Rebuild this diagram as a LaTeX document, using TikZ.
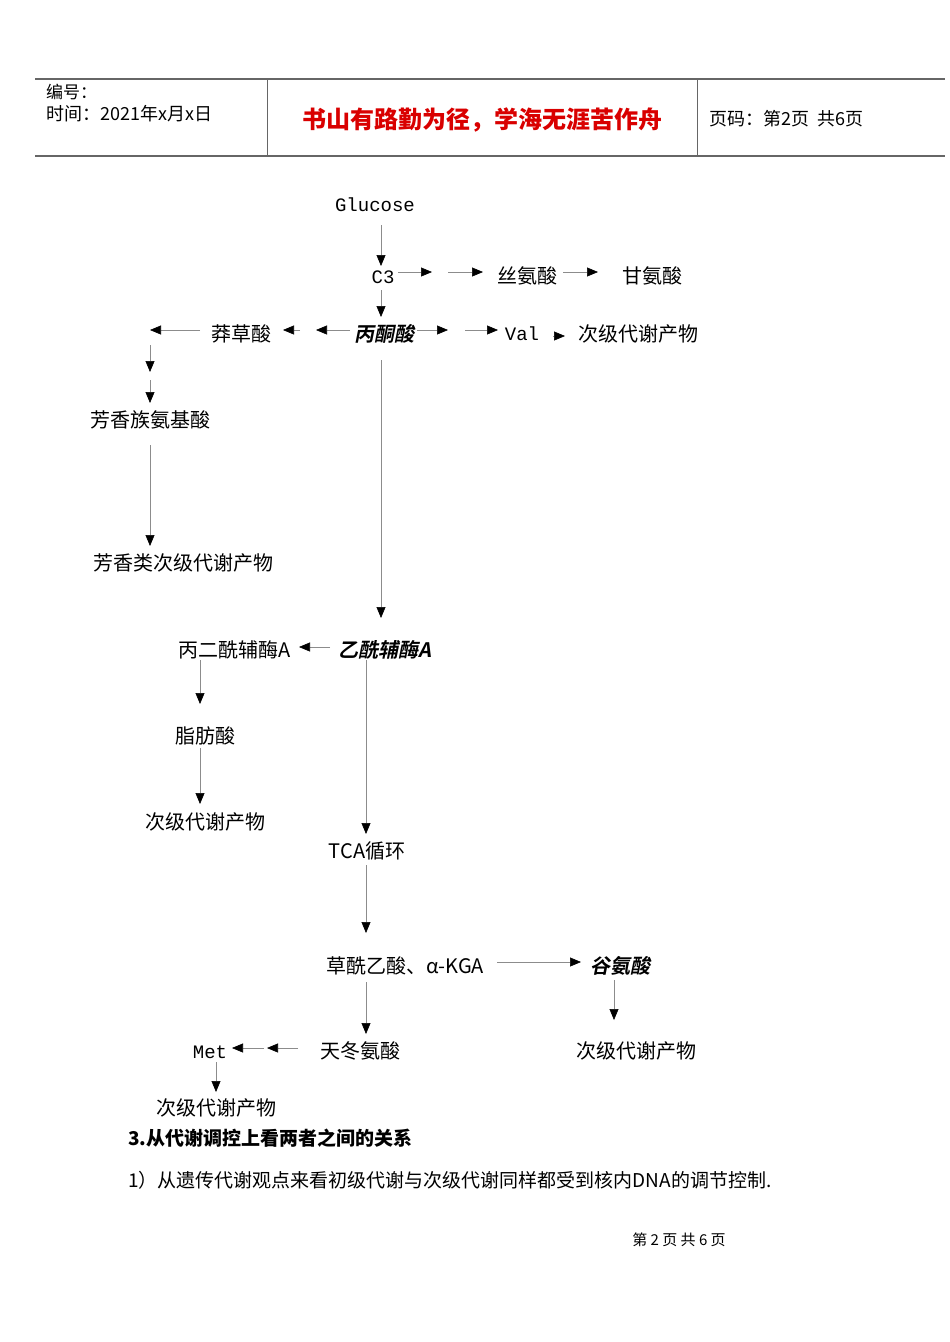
\documentclass[tikz,border=0pt]{standalone}
\usepackage{fontspec}
\setmainfont{Noto Sans CJK SC}
\newfontfamily\mono{Liberation Mono}
\newfontfamily\slb[FakeSlant=0.2]{Noto Sans CJK SC Bold}
\usetikzlibrary{arrows.meta}
\begin{document}
\begin{tikzpicture}[x=1pt,y=-1pt,
  t/.style={inner sep=0pt,font=\fontsize{20}{20}\selectfont},
  tb/.style={t,font=\fontsize{20}{20}\selectfont\slb},
  lt/.style={t,anchor=west},
  ar/.style={draw=black!45,line width=0.6pt,-{Triangle[length=11pt,width=9pt,fill=black,color=black]}},
  ln/.style={draw=black!45,line width=0.6pt}]
\useasboundingbox[fill=white] (0,0) rectangle (950,1342);
% header
\draw[black!60,line width=1.2pt] (35,79) -- (945,79) (35,156) -- (945,156);
\draw[black!60,line width=0.8pt] (267,79) -- (267,156) (697,79) -- (697,156);
\node[lt,font=\fontsize{17}{17}\selectfont] (h1) at (46,92) {编号：};
\node[lt,font=\fontsize{18}{18}\selectfont] (h2) at (46,114) {时间：2021年x月x日};
\node[t,font=\fontsize{24}{24}\selectfont\bfseries,text=red!85!black] (title) at (482,120) {书山有路勤为径，学海无涯苦作舟};
\node[lt,font=\fontsize{18}{18}\selectfont] (h3) at (709,119) {页码：第2页\ \ 共6页};
% nodes
\node[t,font=\fontsize{19}{19}\selectfont\mono] (glu) at (375,205) {Glucose};
\node[t,font=\fontsize{19}{19}\selectfont\mono] (c3) at (383,277) {C3};
\node[t] (ser) at (527,276) {丝氨酸};
\node[t] (gly) at (652,276) {甘氨酸};
\node[tb] (pyr) at (384,334) {丙酮酸};
\node[t] (shk) at (241,334) {莽草酸};
\node[t,font=\fontsize{19}{19}\selectfont\mono] (val) at (522,334) {Val};
\node[t] (sec1) at (638,334) {次级代谢产物};
\node[t] (aro) at (150,420) {芳香族氨基酸};
\node[t] (arosec) at (183,563) {芳香类次级代谢产物};
\node[tb] (aco) at (385,650) {乙酰辅酶A};
\node[t] (mal) at (235,650) {丙二酰辅酶A};
\node[t] (fat) at (205,736) {脂肪酸};
\node[t] (sec2) at (205,822) {次级代谢产物};
\node[t] (tca) at (367,851) {TCA循环};
\node[t] (oaa) at (405,966) {草酰乙酸、α-KGA};
\node[tb] (glu2) at (620,966) {谷氨酸};
\node[t] (sec3) at (636,1051) {次级代谢产物};
\node[t] (asp) at (360,1051) {天冬氨酸};
\node[t,font=\fontsize{19}{19}\selectfont\mono] (met) at (210,1052) {Met};
\node[t] (sec4) at (216,1108) {次级代谢产物};
\node[lt,font=\fontsize{19}{19}\selectfont\bfseries] (s3) at (128,1138) {3.从代谢调控上看两者之间的关系};
\node[lt,font=\fontsize{19}{19}\selectfont] (s31) at (128,1180) {1）从遗传代谢观点来看初级代谢与次级代谢同样都受到核内DNA的调节控制.};
\node[t,font=\fontsize{15}{15}\selectfont] (foot) at (679,1240) {第\ 2\ 页\ 共\ 6\ 页};
% connectors
\draw[ar] (381,225) -- (381,266);
\draw[ar] (398,272) -- (432,272);
\draw[ar] (448,272) -- (483,272);
\draw[ar] (563,272) -- (598,272);
\draw[ar] (381,290) -- (381,317);
\draw[ar] (350,330) -- (316,330);
\draw[ar] (300,330) -- (283,330);
\draw[ar] (200,330) -- (150,330);
\draw[ar] (417,330) -- (448,330);
\draw[ar] (465,330) -- (498,330);
\draw[ar] (553,336) -- (565,336);
\draw[ar] (150,345) -- (150,372);
\draw[ar] (150,380) -- (150,403);
\draw[ar] (150,445) -- (150,546);
\draw[ar] (381,360) -- (381,618);
\draw[ar] (330,647) -- (299,647);
\draw[ar] (200,660) -- (200,704);
\draw[ar] (200,748) -- (200,804);
\draw[ar] (366,660) -- (366,834);
\draw[ar] (366,865) -- (366,933);
\draw[ar] (497,962) -- (581,962);
\draw[ar] (614,980) -- (614,1020);
\draw[ar] (366,982) -- (366,1034);
\draw[ar] (298,1048) -- (267,1048);
\draw[ar] (264,1048) -- (232,1048);
\draw[ar] (216,1062) -- (216,1092);
\end{tikzpicture}
\end{document}
